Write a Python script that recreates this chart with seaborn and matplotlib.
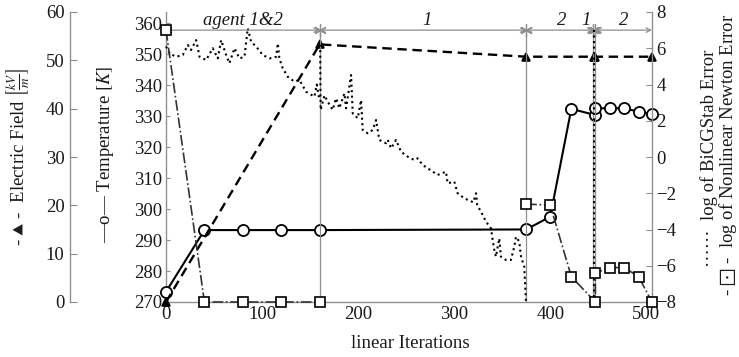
import numpy as np
import pandas as pd
import matplotlib
matplotlib.use("Agg")
import matplotlib.pyplot as plt
import seaborn as sns

# ---------------- data ----------------
iter_T = [0, 40, 80, 120, 160, 375, 400, 422, 447, 447, 462, 477, 492, 506]
temperature = [273.3, 293.2, 293.2, 293.2, 293.2, 293.4, 297.5, 332.3, 330.3, 332.5,
               332.5, 332.5, 331.4, 330.6]

iter_E = [0, 160, 375, 446, 447, 506]
efield = [0, 53.3, 50.75, 50.75, 50.75, 50.75]

iter_newton = [0, 40, 80, 120, 160, 375, 400, 422, 447, 447, 462, 477, 492, 506]
newton_log = [7.0, -8, -8, -8, -8, -2.6, -2.65, -6.6, -8, -6.4, -6.1, -6.1, -6.6, -8]
newton_seg = [0, 0, 0, 0, 0, 1, 1, 1, 1, 1, 1, 1, 1, 1]

iter_bicg_a = [0, 4, 10.6, 17.5, 22.7, 26, 31.4, 34.9, 41.8, 48.7, 53.9, 57.4, 62.6, 66,
               71.3, 76.5, 81.7, 85.1, 88.6, 93.9, 100.7, 107.7, 114.7, 116.4, 118, 121.5,
               126.7, 133.7, 138.9, 145.9, 154.5, 157, 159.7]
bicg_a = [6.1, 5.7, 5.53, 5.63, 6.18, 5.9, 6.45, 5.53, 5.35, 6.0, 5.44, 6.45, 5.63, 5.17,
          6.0, 5.44, 5.53, 7.1, 6.36, 6.09, 5.63, 5.44, 5.53, 6.27, 5.44, 4.9,
          4.43, 4.16, 4.25, 3.6, 3.33, 4.0, 3.14]
iter_bicg_b = [160.5, 161, 165, 168.4, 173.6, 177.1, 180.5, 185.7, 187.5, 192.7, 194.4,
               199.6, 203.1, 204.8, 210, 215.2, 218.7, 222.1, 229.1, 230.8, 234.3, 239.5,
               244.7, 251.6, 258.6, 262, 267.2, 272.4, 282.8, 291.5, 293.2, 300.2, 303.6,
               310.6, 320, 322.8, 324, 328, 333.2, 338.4, 340.1, 341.8, 343.5, 347, 348.7,
               353.9, 359.1, 362.6, 364.4, 367.8, 369.6, 373, 374.8]
bicg_b = [6.2, 2.6, 3.4, 3.05, 2.6, 3.24, 2.69, 3.51, 2.69, 4.52, 2.41,
          2.14, 3.14, 1.49, 1.31, 1.49, 2.04, 0.94, 0.76, 0.94, 0.48, 0.94,
          0.29, 0.02, -0.17, -0.07, -0.44, -0.62, -0.99, -0.81, -1.45, -1.36, -2.0,
          -2.28, -2.5, -2.0, -2.65, -3.02, -3.57, -3.94, -4.58, -5.13, -5.5, -4.49, -5.5,
          -5.68, -5.68, -4.95, -4.4, -4.67, -5.5, -6.05, -8.0]
iter_bicg_c = [446, 446]
bicg_c = [7.0, -8.0]

switch_iters = [160, 375, 445, 447]
segment_bounds = [(0, 160), (160, 375), (375, 445), (447, 506)]
segment_labels = ["agent 1&2", "1", "2", "1", "2"]
segment_label_x = [80, 272, 412, 437, 477]
x_ticks = [0, 100, 200, 300, 400, 500]
T_ticks = list(range(270, 361, 10))
E_ticks = list(range(0, 61, 10))
err_ticks = list(range(-8, 9, 2))

# ---------------- style ----------------
sns.set_style("white")
plt.rcParams["font.family"] = ["Liberation Serif", "DejaVu Serif"]
plt.rcParams["mathtext.fontset"] = "stix"
plt.rcParams["axes.unicode_minus"] = True

GRAY = "#8f8f8f"
TXT = "#1a1a1a"
FS = 13.5
LFS = 13.5

fig = plt.figure(figsize=(7.39, 3.57), dpi=100)
ax = fig.add_axes([166 / 739, 1 - 302 / 357, 486 / 739, 290 / 357])
axE = ax.twinx()
axR = ax.twinx()
axN = ax.twinx()

df_T = pd.DataFrame({"it": iter_T, "val": temperature})
df_E = pd.DataFrame({"it": iter_E, "val": efield})
df_N = pd.DataFrame({"it": iter_newton, "val": newton_log, "seg": newton_seg})
df_B = pd.DataFrame({
    "it": iter_bicg_a + iter_bicg_b + iter_bicg_c,
    "val": bicg_a + bicg_b + bicg_c,
    "seg": [0] * len(iter_bicg_a) + [1] * len(iter_bicg_b) + [2] * len(iter_bicg_c),
})

# guide lines: verticals at switching points and top agent line
for xs in switch_iters:
    axR.axvline(xs, ymin=0, ymax=15 / 16, color=GRAY, lw=0.9, zorder=1)
for (a, b) in segment_bounds:
    axR.annotate("", xy=(b, 7), xytext=(a, 7),
                 arrowprops=dict(arrowstyle="<->", color=GRAY, lw=0.9,
                                 shrinkA=0, shrinkB=0, mutation_scale=8))
axR.plot(switch_iters, [7] * len(switch_iters), ls="none", marker=(6, 2, 0),
         color=GRAY, ms=9, mew=0.9)
for lab, lx in zip(segment_labels, segment_label_x):
    axR.text(lx, 7.55, lab, ha="center", va="center", fontsize=FS,
             style="italic", color=TXT)

# BiCGStab error (dotted)
sns.lineplot(data=df_B, x="it", y="val", units="seg", estimator=None, sort=False,
             ax=axR, color="black", lw=1.5, linestyle=":", clip_on=False)
# Newton error (dash-dot, squares)
sns.lineplot(data=df_N, x="it", y="val", units="seg", estimator=None, sort=False,
             ax=axN, color="#333333", lw=1.2, linestyle="-.", marker="s", ms=7,
             mfc="white", mec="black", mew=1.2, clip_on=False)
# Electric field (dashed, triangles)
sns.lineplot(data=df_E, x="it", y="val", estimator=None, sort=False, ax=axE,
             color="black", lw=1.7, linestyle=(0, (4, 2.4)), marker="^", ms=6,
             mfc="black", mec="black", mew=1.2, clip_on=False)
# Temperature (solid, circles)
sns.lineplot(data=df_T, x="it", y="val", estimator=None, sort=False, ax=ax,
             color="black", lw=1.5, marker="o", ms=8, mfc="white", mec="black",
             mew=1.3, zorder=5, clip_on=False)

# ---------------- axes ----------------
ax.set_xlim(0, 506)
ax.set_ylim(270, 363.55)
axE.set_ylim(0, 60)
axR.set_ylim(-8, 8)
axN.set_ylim(-8, 8)
for a in (axE, axR, axN):
    a.set_xlim(0, 506)

ax.set_xticks(x_ticks)
ax.set_yticks(T_ticks)
axE.set_yticks(E_ticks)
axR.set_yticks(err_ticks)
axR.set_yticklabels([str(t).replace("-", "\u2212") for t in err_ticks])
axN.set_yticks([])

for a in (ax, axE, axR, axN):
    for s in a.spines.values():
        s.set_visible(False)
        s.set_color(GRAY)
        s.set_linewidth(1.0)

ax.spines["left"].set_visible(True)
ax.spines["bottom"].set_visible(True)
axR.spines["right"].set_visible(True)
axE.spines["left"].set_visible(True)
axE.spines["left"].set_position(("axes", (70 - 166) / 486))
axE.yaxis.set_ticks_position("left")
axE.yaxis.set_label_position("left")

ax.tick_params(axis="x", direction="in", length=4, color=GRAY, labelcolor=TXT,
               labelsize=FS, pad=3, top=False)
ax.tick_params(axis="y", direction="in", length=3, color=GRAY, labelcolor=TXT,
               labelsize=FS, pad=3)
axE.tick_params(axis="y", direction="in", length=5, color=GRAY, labelcolor=TXT,
                labelsize=FS, pad=4, left=True, right=False, labelleft=True,
                labelright=False)
axR.tick_params(axis="y", direction="in", length=4, color=GRAY, labelcolor=TXT,
                labelsize=FS, pad=3)
axN.tick_params(axis="both", length=0, labelleft=False, labelright=False)

ax.set_xlabel("linear Iterations", fontsize=LFS, color=TXT)
ax.xaxis.set_label_coords((410 - 166) / 486, (302 - 343) / 290)
ax.xaxis.label.set_verticalalignment("center")

ax.set_ylabel(r"—o— Temperature $[K]$", fontsize=LFS, color=TXT)
ax.yaxis.label.set_verticalalignment("center")
ax.yaxis.set_label_coords((106 - 166) / 486, (302 - 154) / 290)

axE.set_ylabel(r"- $\blacktriangle$ -  Electric Field $\left[\frac{kV}{m}\right]$",
               fontsize=LFS, color=TXT)
axE.yaxis.label.set_verticalalignment("center")
axE.yaxis.set_label_coords((18 - 166) / 486, (302 - 157) / 290)

axR.set_ylabel("······  log of BiCGStab Error", fontsize=LFS, color=TXT)
axR.yaxis.label.set_verticalalignment("center")
axR.yaxis.set_label_coords((709 - 166) / 486, (302 - 158) / 290)

axN.set_ylabel(r"- $\boxdot$ -  log of Nonlinear Newton Error", fontsize=LFS, color=TXT)
axN.yaxis.label.set_verticalalignment("center")
axN.yaxis.set_label_coords((728 - 166) / 486, (302 - 155) / 290)

fig.savefig("out.png", dpi=100, facecolor="white")
